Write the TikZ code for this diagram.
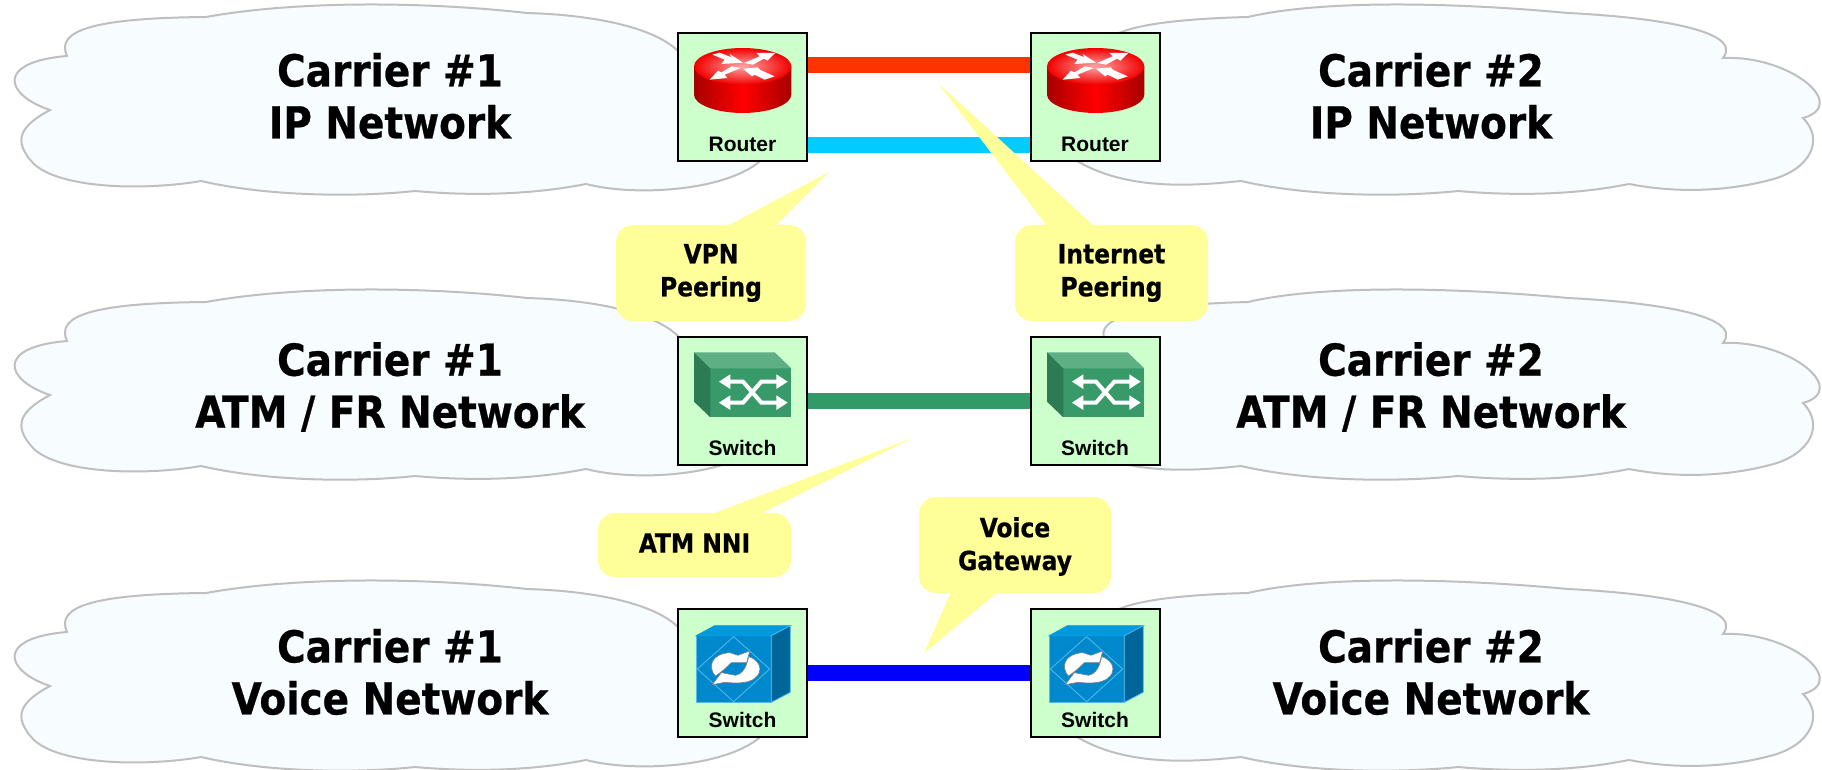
\documentclass[tikz,border=0pt]{standalone}
\usepackage{fontspec}
\setmainfont{Liberation Sans}
\newfontfamily\titlefont{DejaVu Sans Condensed Bold}[FakeBold=0.6,FakeStretch=0.985]
\definecolor{cloudfill}{HTML}{F7FCFF}
\definecolor{cloudline}{HTML}{BFBFBF}
\definecolor{boxfill}{HTML}{CCFFCC}
\definecolor{calloutfill}{HTML}{FFFF99}
\definecolor{barred}{HTML}{FF3300}
\definecolor{barcyan}{HTML}{00CCFF}
\definecolor{bargreen}{HTML}{339966}
\definecolor{barblue}{HTML}{0000FF}
\definecolor{swfront}{HTML}{389A69}
\definecolor{swtop}{HTML}{5FAF85}
\definecolor{swside}{HTML}{2C7B54}
\definecolor{vfront}{HTML}{0088CC}
\definecolor{vtop}{HTML}{0099DD}
\definecolor{vside}{HTML}{006699}
\definecolor{vline}{HTML}{55BBEE}
\tikzset{
  cloudshape/.style={draw=cloudline,fill=cloudfill,line width=1pt},
  titletext/.style={font=\titlefont\fontsize{22}{26}\selectfont,align=center,inner sep=0pt,text=black},
  netbox/.style={draw=black,fill=boxfill,line width=1pt,minimum width=64.5pt,minimum height=64pt,inner sep=0pt,outer sep=0pt},
  devlabel/.style={font=\bfseries\fontsize{10.5}{12}\selectfont,inner sep=0pt},
  linkbar/.style={line width=8pt,shorten >=0.5pt,shorten <=0.5pt},
  callout/.style={fill=calloutfill,rounded corners=8.5pt,inner sep=0pt,align=center,font=\titlefont\fontsize{13.2}{16.5}\selectfont},
  pointer/.style={fill=calloutfill}
}
\newcommand{\leftcloud}[1]{%
  \begin{scope}[shift={(0,#1)}]
  \draw[cloudshape] (206,17) .. controls (300,0) and (430,2) .. (527,13)
    .. controls (600,15) and (668,30) .. (685,60)
    .. controls (745,70) and (790,120) .. (770,150)
    .. controls (745,190) and (640,198) .. (586,184)
    .. controls (530,195) and (470,196) .. (415,191)
    .. controls (360,197) and (270,197) .. (201,181)
    .. controls (150,190) and (65,190) .. (35,165)
    .. controls (10,140) and (22,125) .. (50,110)
    .. controls (5,95) and (-5,62) .. (67,56)
    .. controls (55,30) and (95,18) .. (206,17) -- cycle;
  \end{scope}}
\newcommand{\rightcloud}[1]{%
  \begin{scope}[shift={(0,#1)}]
  \draw[cloudshape] (1248,17) .. controls (1320,0) and (1450,2) .. (1568,13)
    .. controls (1650,17) and (1745,30) .. (1723,58)
    .. controls (1790,55) and (1850,105) .. (1803,118)
    .. controls (1825,140) and (1810,170) .. (1770,180)
    .. controls (1720,193) and (1670,192) .. (1629,184)
    .. controls (1575,195) and (1515,196) .. (1458,191)
    .. controls (1400,197) and (1310,197) .. (1241,181)
    .. controls (1175,188) and (1100,190) .. (1050,140)
    .. controls (1030,95) and (1060,55) .. (1105,55)
    .. controls (1095,35) and (1130,20) .. (1248,17) -- cycle;
  \end{scope}}
\newcommand{\routericon}[2]{%
  \begin{scope}[shift={(#1,#2)},scale=0.3333,shift={(-10,-25)}]
  \shade[left color=red!65!black,right color=red!65!black,middle color=red]
    (58,125) -- (58,210) .. controls (58,240) and (125,265) .. (204,265)
    .. controls (283,265) and (350,240) .. (350,210) -- (350,125) -- cycle;
  \shade[inner color=red!35!white,outer color=red!95!black] (204,125) ellipse [x radius=146,y radius=55];
  \fill[white] (113,90) -- (135,84) -- (170,98) -- (165,88) -- (205,114) -- (140,118) -- (150,105) -- cycle;
  \fill[white] (208,115) -- (255,95) -- (245,85) -- (302,85) -- (278,108) -- (268,102) -- (235,120) -- cycle;
  \fill[white] (172,125) -- (198,130) -- (150,150) -- (158,160) -- (105,165) -- (130,138) -- (140,143) -- cycle;
  \fill[white] (300,155) -- (270,165) -- (240,150) -- (232,155) -- (205,132) -- (250,128) -- (255,135) -- cycle;
  \end{scope}}
\newcommand{\switchicon}[2]{%
  \begin{scope}[shift={(#1,#2)},scale=0.3333,shift={(-10,-21)}]
  \fill[swfront] (107,115) -- (350,115) -- (350,262) -- (107,262) -- cycle;
  \fill[swtop] (58,67) -- (300,67) -- (350,115) -- (107,115) -- cycle;
  \fill[swside] (58,67) -- (107,115) -- (107,262) -- (58,215) -- cycle;
  \draw[white,line width=2pt] (165,155) -- (205,155) -- (260,218) -- (307,218);
  \draw[white,line width=2pt] (165,218) -- (205,218) -- (260,155) -- (307,155);
  \fill[white] (133,155) -- (167,133) -- (167,177) -- cycle;
  \fill[white] (133,218) -- (167,196) -- (167,240) -- cycle;
  \fill[white] (339,155) -- (305,133) -- (305,177) -- cycle;
  \fill[white] (339,218) -- (305,196) -- (305,240) -- cycle;
  \end{scope}}
\newcommand{\voiceicon}[2]{%
  \begin{scope}[shift={(#1,#2)},scale=0.3333,shift={(-10,-27)}]
  \filldraw[fill=vfront,draw=vline,line width=0.4pt] (65,107) -- (290,107) -- (290,307) -- (65,307) -- cycle;
  \filldraw[fill=vtop,draw=vtop,line width=0.4pt] (65,107) -- (120,77) -- (347,77) -- (290,107) -- cycle;
  \filldraw[fill=vside,draw=vline,line width=0.4pt] (290,107) -- (347,77) -- (347,277) -- (290,307) -- cycle;
  \draw[vline,line width=0.4pt] (177,110) -- (285,207) -- (177,305) -- (68,207) -- cycle;
  \filldraw[fill=white,draw=black!50,line width=0.3pt] (122,228) .. controls (98,200) and (110,162) .. (165,158)
    -- (190,166) -- (225,153) -- (216,188) -- (170,188) .. controls (158,198) and (150,210) .. (122,228) -- cycle;
  \filldraw[fill=white,draw=black!50,line width=0.3pt] (222,170) .. controls (265,183) and (268,228) .. (225,243)
    .. controls (205,251) and (175,249) .. (150,247) -- (113,254) -- (140,218) -- (182,226)
    .. controls (205,222) and (216,200) .. (222,170) -- cycle;
  \end{scope}}
\begin{document}
\begin{tikzpicture}[x=0.5pt,y=-0.5pt]
\useasboundingbox (0,0) rectangle (1822,770);
% clouds
\leftcloud{0}\rightcloud{0}
\leftcloud{285}\rightcloud{285}
\leftcloud{576}\rightcloud{576}
% cloud titles
\node[titletext] (t1a) at (390,96) {Carrier \#1\\IP Network};
\node[titletext] (t2a) at (1431,96) {Carrier \#2\\IP Network};
\node[titletext] (t1b) at (390,387) {Carrier \#1\\ATM / FR Network};
\node[titletext] (t2b) at (1431,387) {Carrier \#2\\ATM / FR Network};
\node[titletext] (t1c) at (390,672) {Carrier \#1\\Voice Network};
\node[titletext] (t2c) at (1431,672) {Carrier \#2\\Voice Network};
% device boxes
\node[netbox] (ra) at (742.5,97) {};
\node[netbox] (rb) at (1095,97) {};
\node[netbox] (sa) at (742.5,401) {};
\node[netbox] (sb) at (1095,401) {};
\node[netbox] (va) at (742.5,673) {};
\node[netbox] (vb) at (1095,673) {};
% icons
\routericon{678}{33}\routericon{1031}{33}
\switchicon{678}{337}\switchicon{1031}{337}
\voiceicon{678}{609}\voiceicon{1031}{609}
% device labels
\node[devlabel] (lra) at (742.5,144) {Router};
\node[devlabel] (lrb) at (1095,144) {Router};
\node[devlabel] (lsa) at (742.5,448) {Switch};
\node[devlabel] (lsb) at (1095,448) {Switch};
\node[devlabel] (lva) at (742.5,720) {Switch};
\node[devlabel] (lvb) at (1095,720) {Switch};
% links
\draw[linkbar,barred] ([yshift=16pt]ra.east) -- ([yshift=16pt]rb.west);
\draw[linkbar,barcyan] ([yshift=-24pt]ra.east) -- ([yshift=-24pt]rb.west);
\draw[linkbar,bargreen] (sa) -- (sb);
\draw[linkbar,barblue] (va) -- (vb);
% callouts
\coordinate (tipvpn) at (829,172);
\coordinate (tipinet) at (938,83);
\coordinate (tipatm) at (912,438);
\coordinate (tipvoice) at (924,653);
\node[callout,minimum width=95pt,minimum height=48pt] (vpn) at (711,273) {VPN\\Peering};
\node[callout,minimum width=96.5pt,minimum height=48pt] (inet) at (1111.5,273) {Internet\\Peering};
\node[callout,minimum width=96.5pt,minimum height=32pt] (atm) at (694.5,545) {\raisebox{2pt}{ATM NNI}};
\node[callout,minimum width=96pt,minimum height=48pt] (voice) at (1015,545) {\rule{0pt}{11.5pt}Voice\\Gateway};
\fill[pointer] (727,226) -- (tipvpn) -- (775,226) -- cycle;
\fill[pointer] (1047,226) -- (tipinet) -- (1094,226) -- cycle;
\fill[pointer] (712,514) -- (tipatm) -- (760,514) -- cycle;
\fill[pointer] (951,592) -- (tipvoice) -- (998,592) -- cycle;
\end{tikzpicture}
\end{document}
